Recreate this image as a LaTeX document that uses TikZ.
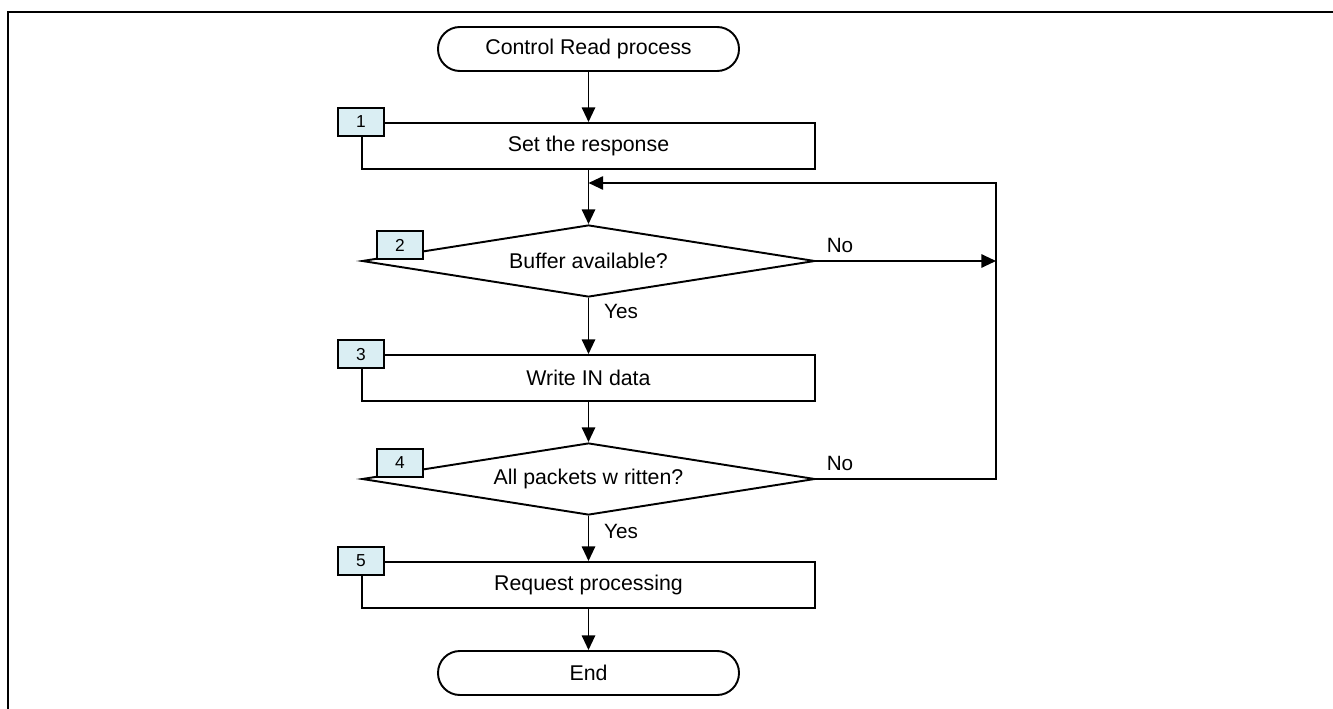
\documentclass[tikz,border=0pt]{standalone}
\usepackage{fontspec}
\setmainfont{Liberation Sans}
\usetikzlibrary{arrows.meta,shapes.geometric}
\definecolor{lblfill}{HTML}{DAEEF3}
\tikzset{
  line/.style={line width=1.45pt},
  arr/.style={line width=1.45pt,-{Triangle[length=11pt,width=10pt]}},
  term/.style={draw,line width=1.45pt,rectangle,rounded corners=16.4pt,minimum width=225.75pt,minimum height=33pt,inner sep=0pt,font=\fontsize{16}{18}\selectfont},
  procbox/.style={draw,line width=1.45pt,rectangle,minimum width=339.75pt,minimum height=34.5pt,inner sep=0pt,font=\fontsize{16}{18}\selectfont},
  decision/.style={draw,line width=1.45pt,diamond,aspect=6.29,minimum width=339.75pt,minimum height=54pt,inner sep=0pt,font=\fontsize{16}{18}\selectfont},
  numlbl/.style={draw,line width=1.45pt,fill=lblfill,rectangle,minimum width=34.5pt,minimum height=21pt,inner sep=0pt,font=\fontsize{13}{15}\selectfont},
  yn/.style={inner sep=0pt,font=\fontsize{15.5}{17}\selectfont}
}
\begin{document}
\begin{tikzpicture}[x=0.75pt,y=-0.75pt]
\clip (0,0) rectangle (1333,709);
\fill[white] (0,0) rectangle (1333,709);
\draw[line width=1.6pt] (8,12) rectangle (1360,740);

\node[term] (start) at (588.5,49) {Control Read process};
\node[procbox] (s1) at (588.5,146) {Set the response};
\node[decision] (d2) at (588.5,261) {Buffer available?};
\node[procbox] (s3) at (588.5,378) {Write IN data};
\node[decision] (d4) at (588.5,479) {All packets w ritten?};
\node[procbox] (s5) at (588.5,585) {Request processing};
\node[term] (end) at (588.5,673) {End};

\node[numlbl] (l1) at (s1.north west) {1};
\node[numlbl] (l2) at (400,245) {2};
\node[numlbl] (l3) at (s3.north west) {3};
\node[numlbl] (l4) at (400,463) {4};
\node[numlbl] (l5) at (s5.north west) {5};

\coordinate (join) at (588.5,183);
\coordinate (rtop) at (996,183);

\draw[arr] (start) -- (s1);
\draw[line] (s1) -- (join);
\draw[arr] (join) -- (d2.north);
\draw[arr] (d2) -- (s3);
\draw[arr] (s3) -- (d4.north);
\draw[arr] (d4) -- (s5);
\draw[arr] (s5) -- (end);
\draw[arr] (d2.east) -- (d2.east -| rtop);
\draw[arr] (d4.east) -| (rtop) -- (join);

\node[yn] (no2) at (840,245) {No};
\node[yn] (no4) at (840,463) {No};
\node[yn] (yes2) at (621,311) {Yes};
\node[yn] (yes4) at (621,531) {Yes};
\end{tikzpicture}
\end{document}
